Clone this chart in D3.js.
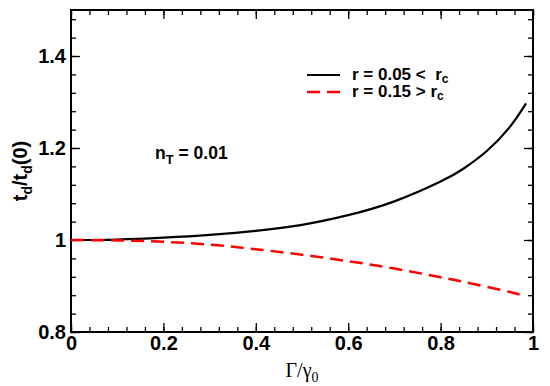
<!DOCTYPE html>
<html>
<head>
<meta charset="utf-8">
<script src="https://cdn.jsdelivr.net/npm/d3@7"></script>
<style>
  body { margin: 0; background: #fff; }
  svg text { font-family: "Liberation Sans", Arial, sans-serif; white-space: pre; }
</style>
</head>
<body>
<div id="chart"></div>
<script>
// Values
const gammaRatio = [0, 0.1, 0.2, 0.3, 0.4, 0.5, 0.6, 0.7, 0.8, 0.85, 0.9, 0.95, 0.985];
const tdBelow = [1.000, 1.001, 1.005, 1.011, 1.020, 1.033, 1.054, 1.084, 1.127, 1.1555, 1.1935, 1.246, 1.297];
const tdAbove = [1.000, 0.999, 0.996, 0.990, 0.980, 0.968, 0.954, 0.938, 0.919, 0.909, 0.898, 0.887, 0.877];
const xTicks = [0, 0.2, 0.4, 0.6, 0.8, 1];
const yTicks = [0.8, 1, 1.2, 1.4];

const width = 550, height = 386;
const margin = { top: 10, right: 17, bottom: 54, left: 71 };
const w = width - margin.left - margin.right;
const h = height - margin.top - margin.bottom;

const svg = d3.select("#chart").append("svg")
    .attr("width", width)
    .attr("height", height);

const g = svg.append("g")
    .attr("transform", `translate(${margin.left},${margin.top})`);

const x = d3.scaleLinear().domain([0, 1]).range([0, w]);
const y = d3.scaleLinear().domain([0.8, 1.5]).range([h, 0]);

// minor ticks every 0.04
const xMinor = d3.range(0, 1.0001, 0.04).map(v => +v.toFixed(2));
const yMinor = d3.range(0.8, 1.5001, 0.04).map(v => +v.toFixed(2));

function tickFmt(d) { return d === 0 || d === 1 ? String(d) : d3.format(".1f")(d); }

// bottom axis
g.append("g")
    .attr("transform", `translate(0,${h})`)
    .call(d3.axisBottom(x).tickValues(xMinor).tickSize(-5).tickFormat(""))
    .call(a => a.select(".domain").remove());
g.append("g")
    .attr("class", "xaxis")
    .attr("transform", `translate(0,${h})`)
    .call(d3.axisBottom(x).tickValues(xTicks).tickSize(-9).tickPadding(4).tickFormat(tickFmt))
    .call(a => a.select(".domain").remove());

// top axis (ticks only)
g.append("g")
    .call(d3.axisTop(x).tickValues(xMinor).tickSize(-5).tickFormat(""))
    .call(a => a.select(".domain").remove());
g.append("g")
    .call(d3.axisTop(x).tickValues(xTicks).tickSize(-9).tickFormat(""))
    .call(a => a.select(".domain").remove());

// left axis
g.append("g")
    .call(d3.axisLeft(y).tickValues(yMinor).tickSize(-5).tickFormat(""))
    .call(a => a.select(".domain").remove());
g.append("g")
    .attr("class", "yaxis")
    .call(d3.axisLeft(y).tickValues(yTicks).tickSize(-9).tickPadding(5).tickFormat(tickFmt))
    .call(a => a.select(".domain").remove());

// right axis (ticks only)
g.append("g")
    .attr("transform", `translate(${w},0)`)
    .call(d3.axisRight(y).tickValues(yMinor).tickSize(-5).tickFormat(""))
    .call(a => a.select(".domain").remove());
g.append("g")
    .attr("transform", `translate(${w},0)`)
    .call(d3.axisRight(y).tickValues(yTicks).tickSize(-9).tickFormat(""))
    .call(a => a.select(".domain").remove());

g.selectAll(".tick line").attr("stroke", "#000").attr("stroke-width", 1.3);
g.selectAll(".xaxis text, .yaxis text")
    .attr("fill", "#000")
    .style("font-size", "20px")
    .style("font-weight", "bold");

// frame
g.append("rect")
    .attr("width", w).attr("height", h)
    .attr("fill", "none").attr("stroke", "#000").attr("stroke-width", 2);

const line = d3.line()
    .x((d, i) => x(gammaRatio[i]))
    .y(d => y(d))
    .curve(d3.curveNatural);

g.append("path")
    .datum(tdBelow)
    .attr("fill", "none")
    .attr("stroke", "#000")
    .attr("stroke-width", 2.2)
    .attr("d", line);

g.append("path")
    .datum(tdAbove)
    .attr("fill", "none")
    .attr("stroke", "#ff0000")
    .attr("stroke-width", 2.5)
    .attr("stroke-dasharray", "13,7")
    .attr("d", line);

// legend
const legend = [
    { label: "r = 0.05 <  r", color: "#000", dash: null },
    { label: "r = 0.15 > r", color: "#ff0000", dash: "13,7" }
];
legend.forEach((d, i) => {
    const ly = 65 + i * 17;
    g.append("line")
        .attr("x1", 236).attr("x2", 269)
        .attr("y1", ly).attr("y2", ly)
        .attr("stroke", d.color)
        .attr("stroke-width", d.dash ? 2.5 : 2.2)
        .attr("stroke-dasharray", d.dash);
    const t = g.append("text")
        .attr("x", 281).attr("y", ly + 5)
        .style("font-size", "17px")
        .style("font-weight", "bold")
        .text(d.label);
    t.append("tspan").attr("dy", 3).style("font-size", "12px").text("c");
});

// annotation
const ann = g.append("text")
    .attr("x", 84).attr("y", 149)
    .style("font-size", "17.5px")
    .style("font-weight", "bold")
    .text("n");
ann.append("tspan").attr("dy", 5).style("font-size", "13px").text("T");
ann.append("tspan").attr("dy", -5).text(" = 0.01");

// axis titles
const xl = svg.append("text")
    .attr("x", margin.left + w / 2)
    .attr("y", 377)
    .attr("text-anchor", "middle")
    .style("font-family", "'Liberation Serif', 'Times New Roman', serif")
    .style("font-size", "20px")
    .text("\u0393/\u03b3");
xl.append("tspan").attr("dy", 5).style("font-size", "14px").text("0");

const yl = svg.append("text")
    .attr("transform", `translate(27,${margin.top + h / 2}) rotate(-90)`)
    .attr("text-anchor", "middle")
    .style("font-size", "20px")
    .style("font-weight", "bold")
    .text("t");
yl.append("tspan").attr("dy", 5).style("font-size", "14px").text("d");
yl.append("tspan").attr("dy", -5).text("/t");
yl.append("tspan").attr("dy", 5).style("font-size", "14px").text("d");
yl.append("tspan").attr("dy", -5).text("(0)");
</script>
</body>
</html>
